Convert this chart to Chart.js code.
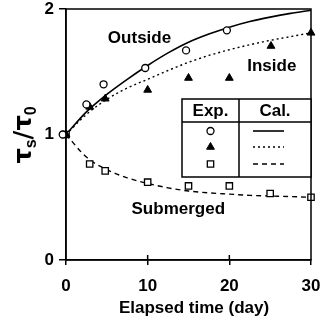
<!DOCTYPE html>
<html><head><meta charset="utf-8">
<script src="https://cdn.jsdelivr.net/npm/chart.js@4"></script>
<style>html,body{margin:0;padding:0;background:#fff}#wrap{width:328px;height:325px}</style>
</head><body><div id="wrap"><canvas id="c"></canvas></div>
<script>
const xTicks = [0, 10, 20, 30];
const yTicks = [0, 1, 2];
const outsideExp = [[-0.4,1.0],[2.5,1.24],[4.6,1.40],[9.7,1.53],[14.7,1.67],[19.7,1.83]];
const insideExp = [[0,1.0],[2.9,1.22],[4.8,1.285],[10,1.355],[15,1.45],[20,1.45],[25.1,1.705],[30,1.81]];
const submergedExp = [[0,1.0],[2.9,0.765],[4.8,0.71],[10,0.62],[15,0.59],[20,0.59],[25,0.53],[30,0.50]];
const calX = [0,2.5,5,7.5,10,12.5,15,17.5,20,22.5,25,27.5,30];
const outsideCal = [1.0,1.18,1.32,1.44,1.55,1.65,1.735,1.80,1.855,1.90,1.935,1.965,1.99];
const insideCal = [1.0,1.16,1.28,1.37,1.44,1.51,1.575,1.63,1.675,1.715,1.75,1.78,1.81];
const submergedCal = [1.0,0.82,0.72,0.655,0.61,0.575,0.55,0.535,0.525,0.515,0.51,0.505,0.50];
const seriesLabels = [{text:'Outside',x:9.0,y:1.77},{text:'Inside',x:25.2,y:1.54},{text:'Submerged',x:13.75,y:0.40}];

const FAM = '"Liberation Sans", Arial, sans-serif';
const FONT = 'bold 17px ' + FAM;
const pts = a => a.map(p => ({x:p[0], y:p[1]}));
const cal = a => calX.map((x,i) => ({x, y:a[i]}));

const markerStyles = [
  {pointStyle:'circle', radius:3.5, backgroundColor:'#fff', borderColor:'#000', borderWidth:1.3},
  {pointStyle:'triangle', radius:4.5, backgroundColor:'#000', borderColor:'#000', borderWidth:1},
  {pointStyle:'rect', radius:4.5, backgroundColor:'#fff', borderColor:'#000', borderWidth:1.3}
];
const lineDashes = [[], [2,3], [5,4]];

const extras = {
  id:'extras',
  afterDraw(chart){
    const ctx = chart.ctx, a = chart.chartArea, sx = chart.scales.x, sy = chart.scales.y;
    ctx.save();
    ctx.strokeStyle = '#000'; ctx.lineWidth = 1.5; ctx.setLineDash([]);
    ctx.strokeRect(a.left, a.top, a.right - a.left, a.bottom - a.top);
    ctx.beginPath();
    xTicks.slice(1, -1).forEach(v => { const px = sx.getPixelForValue(v); ctx.moveTo(px, a.bottom); ctx.lineTo(px, a.bottom - 5); });
    ctx.stroke();
    ctx.fillStyle = '#000'; ctx.font = FONT; ctx.textAlign = 'center'; ctx.textBaseline = 'middle';
    seriesLabels.forEach(l => ctx.fillText(l.text, sx.getPixelForValue(l.x), sy.getPixelForValue(l.y)));
    ctx.fillText('Elapsed time (day)', 194, 308);
    ctx.save();
    ctx.translate(25, 135); ctx.rotate(-Math.PI/2);
    ctx.textAlign = 'left'; ctx.textBaseline = 'alphabetic';
    const big = 'bold 24px "DejaVu Sans", sans-serif', small = 'bold 16px ' + FAM;
    const parts = [['τ',big,0],['s',small,5],['/',big,0],['τ',big,0],['0',small,5]];
    let w = 0;
    parts.forEach(p => { ctx.font = p[1]; w += ctx.measureText(p[0]).width; });
    let x = -w/2;
    parts.forEach(p => { ctx.font = p[1]; ctx.fillText(p[0], x, 6 + p[2]); x += ctx.measureText(p[0]).width; });
    ctx.restore();
    const L = 182, T = 99, R = a.right, B = 177, mid = 239, hdr = 122;
    ctx.lineWidth = 1.5;
    ctx.fillStyle = '#fff'; ctx.fillRect(L, T, R-L, B-T);
    ctx.strokeStyle = '#000';
    ctx.strokeRect(L, T, R-L, B-T);
    ctx.beginPath(); ctx.moveTo(L, hdr); ctx.lineTo(R, hdr); ctx.moveTo(mid, T); ctx.lineTo(mid, B); ctx.stroke();
    ctx.fillStyle = '#000'; ctx.font = FONT; ctx.textAlign = 'center'; ctx.textBaseline = 'middle';
    ctx.fillText('Exp.', (L+mid)/2, 111);
    ctx.fillText('Cal.', (mid+R)/2, 111);
    const rows = [131, 147, 164];
    rows.forEach((ry, i) => {
      const m = markerStyles[i];
      ctx.fillStyle = m.backgroundColor; ctx.strokeStyle = m.borderColor; ctx.lineWidth = m.borderWidth;
      Chart.helpers.drawPoint(ctx, m, (L+mid)/2, ry);
      ctx.beginPath(); ctx.setLineDash(lineDashes[i]); ctx.lineWidth = i===0 ? 1.6 : 1.3;
      ctx.strokeStyle = '#000'; ctx.moveTo(253, ry); ctx.lineTo(284, ry); ctx.stroke();
      ctx.setLineDash([]);
    });
    ctx.restore();
  }
};

const expSets = [outsideExp, insideExp, submergedExp].map((d,i) => ({
  type:'scatter', data: pts(d), showLine:false, clip:false,
  pointStyle: markerStyles[i].pointStyle, pointRadius: markerStyles[i].radius,
  pointBackgroundColor: markerStyles[i].backgroundColor, pointBorderColor:'#000',
  pointBorderWidth: markerStyles[i].borderWidth, order: 0
}));
const calSets = [outsideCal, insideCal, submergedCal].map((d,i) => ({
  type:'line', data: cal(d), borderColor:'#000', borderWidth: i===0 ? 1.6 : 1.4,
  borderDash: lineDashes[i], pointRadius:0, cubicInterpolationMode:'monotone', fill:false, order: 1
}));

const zeroPad = s => { s.paddingTop = 0; s.paddingBottom = 0; s.paddingLeft = 0; s.paddingRight = 0; };

new Chart(document.getElementById('c'), {
  type:'scatter',
  data:{ datasets: [...calSets, ...expSets] },
  options:{
    responsive:true, maintainAspectRatio:false, animation:false,
    layout:{ padding:{ left:0, right:17, top:9, bottom:0 } },
    plugins:{ legend:{display:false}, tooltip:{enabled:false} },
    scales:{
      x:{ type:'linear', min:0, max:30,
        afterBuildTicks: s => { s.ticks = xTicks.map(v => ({value:v})); },
        afterFit: s => { s.height = 65; zeroPad(s); },
        ticks:{ color:'#000', font:{ family:FAM, size:17, weight:'bold' }, padding:11, maxRotation:0 },
        grid:{ drawOnChartArea:false, drawTicks:true, tickLength:5, color:'#000', lineWidth:1.5 },
        border:{ color:'#000', width:1.5 } },
      y:{ type:'linear', min:0, max:2,
        afterBuildTicks: s => { s.ticks = yTicks.map(v => ({value:v})); },
        afterFit: s => { s.width = 66; zeroPad(s); },
        ticks:{ color:'#000', font:{ family:FAM, size:17, weight:'bold' }, padding:5 },
        grid:{ drawOnChartArea:false, drawTicks:true, tickLength:7, color:'#000', lineWidth:1.5 },
        border:{ color:'#000', width:1.5 } }
    }
  },
  plugins:[extras]
});
</script></body></html>
